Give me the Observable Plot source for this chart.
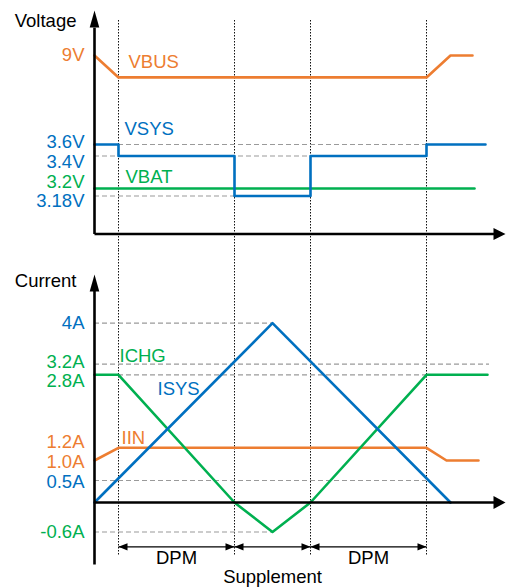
<!DOCTYPE html>
<html>
<head>
<meta charset="utf-8">
<script src="https://cdn.jsdelivr.net/npm/d3@7"></script>
<script src="https://cdn.jsdelivr.net/npm/@observablehq/plot@0.6"></script>
<style>
  html, body { margin: 0; padding: 0; background: #fff; }
  #chart svg { display: block; }
</style>
</head>
<body>
<div id="chart"></div>
<script>
// ---------------- DATA ----------------
// time axis (arbitrary units); phase boundaries
const phaseT = [6, 35, 54, 83];
// Voltage panel
const vbusT = [0, 6, 83, 89, 94.5];
const vbusV = [9, 7.67, 7.67, 9, 9];
const vsysT = [0, 6, 35, 54, 83, 97.75];
const vsysV = [3.6, 3.4, 3.18, 3.4, 3.6, 3.6];
const vbatT = [0, 95];
const vbatV = [3.2, 3.2];
const vTickLabels = ["9V", "3.6V", "3.4V", "3.2V", "3.18V"];
const vTickValues = [9, 3.6, 3.4, 3.2, 3.18];
const vTickColors = ["VBUS", "VSYS", "VSYS", "VBAT", "VSYS"];
const vRefValues = [3.6, 3.4, 3.18];
const vRefEnds = [83, 83, 35];
// Current panel
const isysT = [0, 44.5, 89];
const isysI = [0, 4, 0];
const ichgT = [0, 6, 35, 44.5, 54, 83, 98.25];
const ichgI = [2.8, 2.8, 0, -0.6, 0, 2.8, 2.8];
const iinT = [0, 6, 83, 88, 96];
const iinI = [1.0, 1.2, 1.2, 1.0, 1.0];
const iTickLabels = ["4A", "3.2A", "2.8A", "1.2A", "1.0A", "0.5A", "-0.6A"];
const iTickValues = [4, 3.2, 2.8, 1.2, 1.0, 0.5, -0.6];
const iTickColors = ["ISYS", "ICHG", "ICHG", "IIN", "IIN", "ISYS", "ICHG"];
const iRefValues = [4, 3.2, 2.8, 0.5, -0.6];
const iRefEnds = [44.5, 98.75, 83, 83, 44.5];
// intervals annotated under the current panel
const spanStart = [6, 35, 54];
const spanEnd = [35, 54, 83];
const spanLabel = ["DPM", "", "DPM"];
const bottomLabel = "Supplement";

// ---------------- STYLE / LAYOUT ----------------
const colors = {VBUS: "#ED7D31", VSYS: "#0070C0", VBAT: "#00B050",
                ISYS: "#0070C0", ICHG: "#00B050", IIN: "#ED7D31"};
const font = "'Liberation Sans', Arial, sans-serif";
const fs = 18.5;
const W = 507;
// label nudges (pixels) so overlapping tick labels separate as in the drawing
const vNudge = {"9V": 0, "3.6V": -2.5, "3.4V": 6, "3.2V": -6.5, "3.18V": 5};
const iNudge = {"4A": 0, "3.2A": -2, "2.8A": 6.5, "1.2A": -5.5, "1.0A": 1.7, "0.5A": 1.7, "-0.6A": 0.5};

// schematic (non-proportional) value axes: value knots -> drawing level knots
const vKnots = [0, 3.18, 3.2, 3.4, 3.6, 9, 11.75];
const vLevels = [0, 38, 45.5, 78, 89.5, 178.5, 223.5];
const iKnots = [-1.3, -0.6, 0, 0.5, 1.0, 1.2, 2.8, 3.2, 4, 5];
const iLevels = [-62, -29.5, 0, 22, 42, 54.7, 127.7, 138.3, 179.3, 228];
const vLevel = d3.scaleLinear().domain(vKnots).range(vLevels);
const iLevel = d3.scaleLinear().domain(iKnots).range(iLevels);

const xScale = {domain: [0, 102.75], range: [94, 505], axis: null};

// custom filled arrowheads (tip at origin)
const arrowUp = (len, half) => ({draw(c) { c.moveTo(0, 0); c.lineTo(half, len); c.lineTo(-half, len); c.closePath(); }});
const arrowRight = (len, half) => ({draw(c) { c.moveTo(0, 0); c.lineTo(-len, -half); c.lineTo(-len, half); c.closePath(); }});
const arrowLeft = (len, half) => ({draw(c) { c.moveTo(0, 0); c.lineTo(len, -half); c.lineTo(len, half); c.closePath(); }});

const zip = (T, Y) => T.map((t, i) => ({t, y: Y[i]}));

// ---------------- VOLTAGE PANEL ----------------
const vAxisTop = 11.75, vLabelY = 11.1;
const voltage = Plot.plot({
  width: W, height: 250,
  marginTop: 20, marginBottom: 0, marginLeft: 0, marginRight: 0,
  style: {fontFamily: font, fontSize: fs + "px", background: "white", overflow: "visible"},
  x: xScale,
  y: {transform: vLevel, domain: [-16.5, 233.5], range: [250, 0], axis: null},
  marks: [
    Plot.ruleX(phaseT, {x: d => d, stroke: "#111", strokeWidth: 1, strokeDasharray: "1.5,1.5"}),
    Plot.ruleY(vRefValues.map((v, i) => ({v, e: vRefEnds[i]})), {y: "v", x1: () => 0, x2: "e", stroke: "#9a9a9a", strokeWidth: 1.2, strokeDasharray: "5,3"}),
    Plot.line(zip(vbatT, vbatV), {x: "t", y: "y", stroke: colors.VBAT, strokeWidth: 2.6}),
    Plot.line(zip(vbusT, vbusV), {x: "t", y: "y", stroke: colors.VBUS, strokeWidth: 2.6}),
    Plot.line(zip(vsysT, vsysV), {x: "t", y: "y", curve: "step-after", stroke: colors.VSYS, strokeWidth: 2.6}),
    // axes
    Plot.link([{a: 0}], {x1: () => 0, x2: () => 0, y1: () => 0, y2: () => 10.7, stroke: "black", strokeWidth: 2.6}),
    Plot.link([{a: 0}], {x1: () => 0, x2: () => 100, y1: () => 0, y2: () => 0, stroke: "black", strokeWidth: 2.6}),
    Plot.dot([{t: 0, y: vAxisTop}], {x: "t", y: "y", r: 5, symbol: arrowUp(17, 4.8), fill: "black", stroke: "none"}),
    Plot.dot([{t: 102.75, y: 0}], {x: "t", y: "y", r: 5, symbol: arrowRight(12, 6), fill: "black", stroke: "none"}),
    // labels
    Plot.text(["Voltage"], {x: () => 0, y: () => vLabelY, text: d => d, textAnchor: "end", dx: -18, fill: "black"}),
    ...vTickLabels.map((lab, i) => Plot.text([lab], {x: () => 0, y: () => vTickValues[i], text: d => d, textAnchor: "end", dx: -10, dy: vNudge[lab], fill: colors[vTickColors[i]]})),
    Plot.text(["VBUS"], {x: () => 8.5, y: () => 8.58, text: d => d, textAnchor: "start", fill: colors.VBUS}),
    Plot.text(["VSYS"], {x: () => 7.5, y: () => 4.51, text: d => d, textAnchor: "start", fill: colors.VSYS}),
    Plot.text(["VBAT"], {x: () => 7.75, y: () => 3.268, text: d => d, textAnchor: "start", fill: colors.VBAT})
  ]
});

// ---------------- CURRENT PANEL ----------------
const iAxisTop = 5.0, iAxisBottom = -1.3, iLabelY = 4.86, dimRow = -0.92, dimText = -1.17, suppText = -1.58;
const current = Plot.plot({
  width: W, height: 337,
  marginTop: 0, marginBottom: 31, marginLeft: 0, marginRight: 0,
  style: {fontFamily: font, fontSize: fs + "px", background: "white", overflow: "visible"},
  x: xScale,
  y: {transform: iLevel, domain: [-85, 252], range: [337, 0], axis: null},
  marks: [
    Plot.ruleX(phaseT, {x: d => d, stroke: "#111", strokeWidth: 1, strokeDasharray: "1.5,1.5"}),
    Plot.ruleY(iRefValues.map((v, i) => ({v, e: iRefEnds[i]})), {y: "v", x1: () => 0, x2: "e", stroke: "#9a9a9a", strokeWidth: 1.2, strokeDasharray: "5,3"}),
    Plot.line(zip(iinT, iinI), {x: "t", y: "y", stroke: colors.IIN, strokeWidth: 2.6}),
    Plot.line(zip(ichgT, ichgI), {x: "t", y: "y", stroke: colors.ICHG, strokeWidth: 2.6}),
    Plot.line(zip(isysT, isysI), {x: "t", y: "y", stroke: colors.ISYS, strokeWidth: 2.6}),
    // axes
    Plot.link([{a: 0}], {x1: () => 0, x2: () => 0, y1: () => iAxisBottom, y2: () => 4.7, stroke: "black", strokeWidth: 2.6}),
    Plot.link([{a: 0}], {x1: () => 0, x2: () => 100, y1: () => 0, y2: () => 0, stroke: "black", strokeWidth: 2.6}),
    Plot.dot([{t: 0, y: iAxisTop}], {x: "t", y: "y", r: 5, symbol: arrowUp(17, 4.8), fill: "black", stroke: "none"}),
    Plot.dot([{t: 102.75, y: 0}], {x: "t", y: "y", r: 5, symbol: arrowRight(12, 6.5), fill: "black", stroke: "none"}),
    // interval dimension arrows
    Plot.link(spanStart.map((s, i) => ({s, e: spanEnd[i]})), {x1: "s", x2: "e", y1: () => dimRow, y2: () => dimRow, stroke: "black", strokeWidth: 1.3}),
    Plot.dot(spanStart.map(s => ({t: s})), {x: "t", y: () => dimRow, r: 4, symbol: arrowLeft(9, 3.6), fill: "black", stroke: "none"}),
    Plot.dot(spanEnd.map(e => ({t: e})), {x: "t", y: () => dimRow, r: 4, symbol: arrowRight(9, 3.6), fill: "black", stroke: "none"}),
    Plot.text(spanStart.map((s, i) => ({m: (s + spanEnd[i]) / 2, lab: spanLabel[i]})).filter(d => d.lab), {x: "m", y: () => dimText, text: "lab", fill: "black"}),
    Plot.text([bottomLabel], {x: () => (spanStart[1] + spanEnd[1]) / 2, y: () => suppText, text: d => d, fill: "black"}),
    // labels
    Plot.text(["Current"], {x: () => 0, y: () => iLabelY, text: d => d, textAnchor: "end", dx: -18, fill: "black"}),
    ...iTickLabels.map((lab, i) => Plot.text([lab], {x: () => 0, y: () => iTickValues[i], text: d => d, textAnchor: "end", dx: -10, dy: iNudge[lab], fill: colors[iTickColors[i]]})),
    Plot.text(["ICHG"], {x: () => 6.25, y: () => 3.356, text: d => d, textAnchor: "start", fill: colors.ICHG}),
    Plot.text(["ISYS"], {x: () => 15.75, y: () => 2.478, text: d => d, textAnchor: "start", fill: colors.ISYS}),
    Plot.text(["IIN"], {x: () => 6.75, y: () => 1.404, text: d => d, textAnchor: "start", fill: colors.IIN})
  ]
});

const root = document.getElementById("chart");
root.appendChild(voltage);
root.appendChild(current);
</script>
</body>
</html>
